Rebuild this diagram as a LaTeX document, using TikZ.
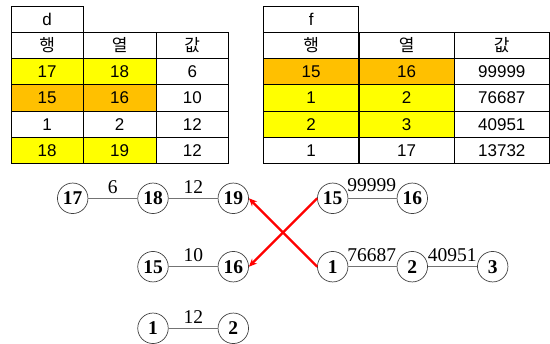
\documentclass[tikz,border=0pt]{standalone}
\usepackage{fontspec}
\setmainfont{Liberation Serif}
\setsansfont{Liberation Sans}
\newfontfamily\kr{Noto Sans CJK KR}
\usetikzlibrary{arrows.meta}
\definecolor{yel}{HTML}{FFFF00}
\definecolor{org}{HTML}{FFC000}
\begin{document}
\begin{tikzpicture}[x=1pt,y=-1pt,
  cell/.style={draw=black, line width=0.9pt, rectangle, inner sep=0pt, minimum height=26.2pt, font=\sffamily\fontsize{17}{17}\selectfont},
  lw/.style={cell, minimum width=72.5pt},
  rw/.style={cell, minimum width=95.3pt},
  ko/.style={font=\kr\fontsize{17}{17}\selectfont},
  vtx/.style={circle, draw=black!75, line width=0.7pt, minimum size=30.5pt, inner sep=0pt, font=\bfseries\fontsize{19.5}{19.5}\selectfont},
  edge/.style={draw=black!55, line width=0.8pt},
  elab/.style={font=\fontsize{19.5}{19.5}\selectfont, inner sep=0pt},
  redarr/.style={draw=red, line width=2.3pt, -{Stealth[length=8pt,width=7pt]}}
]
\useasboundingbox (0,0) rectangle (550,344);
% ---- left table d
\node[lw] (dt) at (47.2,19.2) {d};
\node[lw,ko] (dh1) at (47.2,45.3) {행};
\node[lw,ko] (dh2) at (119.7,45.3) {열};
\node[lw,ko] (dh3) at (192.3,45.3) {값};
\node[lw,fill=yel] (d11) at (47.2,71.7) {17};
\node[lw,fill=yel] (d12) at (119.7,71.7) {18};
\node[lw] (d13) at (192.3,71.7) {6};
\node[lw,fill=org] (d21) at (47.2,98) {15};
\node[lw,fill=org] (d22) at (119.7,98) {16};
\node[lw] (d23) at (192.3,98) {10};
\node[lw] (d31) at (47.2,124.2) {1};
\node[lw] (d32) at (119.7,124.2) {2};
\node[lw] (d33) at (192.3,124.2) {12};
\node[lw,fill=yel] (d41) at (47.2,150.3) {18};
\node[lw,fill=yel] (d42) at (119.7,150.3) {19};
\node[lw] (d43) at (192.3,150.3) {12};
% ---- right table f
\node[rw] (ft) at (311.2,19.2) {f};
\node[rw,ko] (fh1) at (311.2,45.3) {행};
\node[rw,ko] (fh2) at (406.7,45.3) {열};
\node[rw,ko] (fh3) at (501.8,45.3) {값};
\node[rw,fill=org] (f11) at (311.2,71.7) {15};
\node[rw,fill=org] (f12) at (406.7,71.7) {16};
\node[rw] (f13) at (501.8,71.7) {99999};
\node[rw,fill=yel] (f21) at (311.2,98) {1};
\node[rw,fill=yel] (f22) at (406.7,98) {2};
\node[rw] (f23) at (501.8,98) {76687};
\node[rw,fill=yel] (f31) at (311.2,124.2) {2};
\node[rw,fill=yel] (f32) at (406.7,124.2) {3};
\node[rw] (f33) at (501.8,124.2) {40951};
\node[rw] (f41) at (311.2,150.3) {1};
\node[rw] (f42) at (406.7,150.3) {17};
\node[rw] (f43) at (501.8,150.3) {13732};
% ---- graph nodes
\node[vtx] (a17) at (72.7,198.3) {17};
\node[vtx] (a18) at (153,198.3) {18};
\node[vtx] (a19) at (233.3,198.3) {19};
\node[vtx] (b15) at (153,266.7) {15};
\node[vtx] (b16) at (233.3,266.7) {16};
\node[vtx] (c1) at (153,328.3) {1};
\node[vtx] (c2) at (233.3,328.3) {2};
\node[vtx] (e15) at (332.7,198.3) {15};
\node[vtx] (e16) at (412.3,198.3) {16};
\node[vtx] (g1) at (332.7,266.7) {1};
\node[vtx] (g2) at (412.3,266.7) {2};
\node[vtx] (g3) at (492.7,266.7) {3};
% ---- edges
\draw[edge] (a17) -- (a18);
\draw[edge] (a18) -- (a19);
\draw[edge] (b15) -- (b16);
\draw[edge] (c1) -- (c2);
\draw[edge] (e15) -- (e16);
\draw[edge] (g1) -- (g2);
\draw[edge] (g2) -- (g3);
% ---- edge labels
\node[elab] (l6) at (112.7,186.7) {6};
\node[elab] (l12a) at (193.3,186.7) {12};
\node[elab] (l10) at (193.3,255) {10};
\node[elab] (l12b) at (193.3,316.7) {12};
\node[elab] (l99) at (371.7,185) {99999};
\node[elab] (l76) at (371.7,255) {76687};
\node[elab] (l40) at (452.3,255) {40951};
% ---- red arrows
\draw[redarr] (g1.west) -- (a19.east);
\draw[redarr] (e15.west) -- (b16.east);
\end{tikzpicture}
\end{document}
